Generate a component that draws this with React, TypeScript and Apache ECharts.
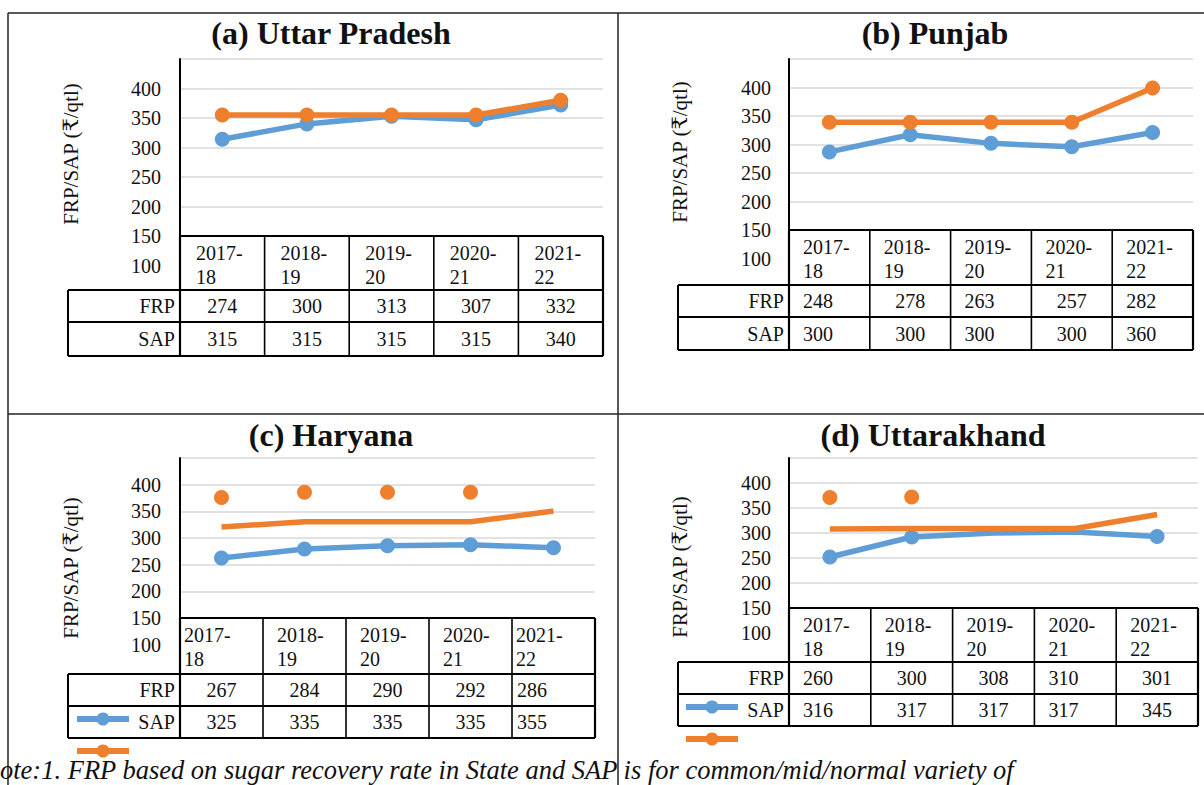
import React, { useEffect, useRef } from 'react';
import * as echarts from 'echarts';

// ---------- data ----------
const categories = ['2017-18', '2018-19', '2019-20', '2020-21', '2021-22'];
const rowNames = ['FRP', 'SAP'];
const yTickLabels = ['100', '150', '200', '250', '300', '350', '400'];
const yAxisTitle = 'FRP/SAP (₹/qtl)';
const panelTitles = ['(a) Uttar Pradesh', '(b) Punjab', '(c) Haryana', '(d) Uttarakhand'];
const footnote = 'ote:1. FRP based on sugar recovery rate in State and SAP is for common/mid/normal variety of';

const upFRP = [274, 300, 313, 307, 332];
const upSAP = [315, 315, 315, 315, 340];
const pbFRP = [248, 278, 263, 257, 282];
const pbSAP = [300, 300, 300, 300, 360];
const hrFRP = [267, 284, 290, 292, 286];
const hrSAP = [325, 335, 335, 335, 355];
const ukFRP = [260, 300, 308, 310, 301];
const ukSAP = [316, 317, 317, 317, 345];

// which points carry markers / loose SAP dots
const upFrpMarks = [0, 1, 2, 3, 4];
const upSapMarks = [0, 1, 2, 3, 4];
const pbFrpMarks = [0, 1, 2, 3, 4];
const pbSapMarks = [0, 1, 2, 3, 4];
const hrFrpMarks = [0, 1, 2, 3, 4];
const hrSapMarks: number[] = [];
const ukFrpMarks = [0, 1, 4];
const ukSapMarks: number[] = [];
const hrSapDots = [0, 1, 2, 3];
const ukSapDots = [0, 1];

const BLUE = '#5F9DD6';
const ORANGE = '#EE7F2D';
const SERIF = "'Liberation Serif', 'Times New Roman', 'DejaVu Serif', serif";

// ---------- layout ----------
const panels = [
  {
    frp: upFRP, sap: upSAP, frpMarks: upFrpMarks, sapMarks: upSapMarks, dots: [] as number[],
    titleX: 331, titleY: 33, yTitleX: 71, yTitleY: 154,
    x0: 68, xL: 180, xR: 603, top: 59, axisY: 236, hdrB: 290, frpB: 322, sapB: 356,
    lineShift: 40, dotShift: 40,
    hdrPad: [16, 16, 16, 16, 16], valAlign: ['c', 'c', 'c', 'c', 'c'], valPad: 14,
    legend: null as null | { x: number; y1: number; y2: number },
  },
  {
    frp: pbFRP, sap: pbSAP, frpMarks: pbFrpMarks, sapMarks: pbSapMarks, dots: [] as number[],
    titleX: 935, titleY: 33, yTitleX: 680, yTitleY: 152,
    x0: 678, xL: 789, xR: 1193, top: 59, axisY: 230, hdrB: 285, frpB: 317, sapB: 350,
    lineShift: 39, dotShift: 39,
    hdrPad: [14, 14, 14, 14, 14], valAlign: ['l', 'c', 'l', 'c', 'l'], valPad: 14,
    legend: null as null | { x: number; y1: number; y2: number },
  },
  {
    frp: hrFRP, sap: hrSAP, frpMarks: hrFrpMarks, sapMarks: hrSapMarks, dots: hrSapDots,
    titleX: 331, titleY: 435, yTitleX: 71, yTitleY: 568,
    x0: 68, xL: 180, xR: 595, top: 458, axisY: 618, hdrB: 674, frpB: 706, sapB: 738,
    lineShift: -4.5, dotShift: 51,
    hdrPad: [4, 14, 14, 14, 4], valAlign: ['c', 'c', 'c', 'c', 'l'], valPad: 5,
    legend: { x: 77, y1: 719, y2: 751 },
  },
  {
    frp: ukFRP, sap: ukSAP, frpMarks: ukFrpMarks, sapMarks: ukSapMarks, dots: ukSapDots,
    titleX: 933, titleY: 435, yTitleX: 680, yTitleY: 567,
    x0: 678, xL: 789, xR: 1198, top: 458, axisY: 608, hdrB: 662, frpB: 694, sapB: 726,
    lineShift: -8, dotShift: 55,
    hdrPad: [14, 14, 14, 14, 14], valAlign: ['l', 'c', 'c', 'l', 'c'], valPad: 14,
    legend: { x: 686, y1: 707, y2: 739 },
  },
];

function txt(x: number, y: number, text: string, opts: any = {}) {
  const align = opts.align || 'left';
  const v = opts.v || 'middle';
  return {
    type: 'text', x, y, z: 20, rotation: opts.rotation || 0,
    style: {
      text, fill: '#111', fontFamily: SERIF, fontSize: opts.size || 20,
      fontWeight: opts.weight || 'normal', fontStyle: opts.style || 'normal',
      align, textAlign: align, verticalAlign: v, textVerticalAlign: v,
    },
  };
}
function ln(x1: number, y1: number, x2: number, y2: number, w = 1.8, color = '#000') {
  return { type: 'line', z: 20, shape: { x1, y1, x2, y2 }, style: { stroke: color, lineWidth: w } };
}

export default function App() {
  const ref = useRef<HTMLDivElement>(null);
  useEffect(() => {
    if (!ref.current) return;
    const chart = echarts.init(ref.current, undefined, { renderer: 'svg' });

    const grid: any[] = [];
    const xAxis: any[] = [];
    const yAxis: any[] = [];
    const series: any[] = [];
    const graphic: any[] = [];

    panels.forEach((p, i) => {
      const step = (p.axisY - p.top) / 6;
      const gridBottom = p.axisY + step;
      grid.push({ left: p.xL, top: p.top, width: p.xR - p.xL, height: gridBottom - p.top, containLabel: false });
      xAxis.push({ type: 'category', gridIndex: i, data: categories, boundaryGap: true, show: false });
      yAxis.push({
        type: 'value', gridIndex: i, min: 100, max: 450, interval: 50,
        axisLine: { show: true, lineStyle: { color: '#000', width: 2 } },
        axisTick: { show: false },
        axisLabel: {
          margin: p.xL - (i % 2 === 0 ? 161 : 771), fontSize: 20, fontFamily: SERIF, color: '#111',
          showMinLabel: true, showMaxLabel: true, hideOverlap: false,
          formatter: (v: number) => (yTickLabels.includes(String(v)) ? String(v) : ''),
        },
        splitLine: { show: true, showMinLine: false, lineStyle: { color: '#D9D9D9', width: 1.5 } },
      });
      yAxis.push({ type: 'value', gridIndex: i, min: 100 - p.lineShift, max: 450 - p.lineShift, show: false, splitLine: { show: false } });
      yAxis.push({ type: 'value', gridIndex: i, min: 100 - p.dotShift, max: 450 - p.dotShift, show: false, splitLine: { show: false } });

      series.push({
        type: 'line', name: rowNames[0], xAxisIndex: i, yAxisIndex: 3 * i + 1,
        data: p.frp.map((v, j) => (p.frpMarks.includes(j) ? v : { value: v, symbol: 'none' })),
        symbol: 'circle', symbolSize: 15, showSymbol: true,
        lineStyle: { color: BLUE, width: 5.5 }, itemStyle: { color: BLUE, opacity: 1 }, z: 3,
      });
      series.push({
        type: 'line', name: rowNames[1], xAxisIndex: i, yAxisIndex: 3 * i + 1,
        data: p.sap.map((v, j) => (p.sapMarks.includes(j) ? v : { value: v, symbol: 'none' })),
        symbol: 'circle', symbolSize: 15, showSymbol: true,
        lineStyle: { color: ORANGE, width: 5.5 }, itemStyle: { color: ORANGE, opacity: 1 }, z: 4,
      });
      if (p.dots.length) {
        series.push({
          type: 'scatter', name: rowNames[1], xAxisIndex: i, yAxisIndex: 3 * i + 2,
          data: p.dots.map((j) => [j, p.sap[j]]), symbolSize: 15,
          itemStyle: { color: ORANGE, opacity: 1 }, z: 4,
        });
      }

      // titles
      graphic.push(txt(p.titleX, p.titleY, panelTitles[i], { align: 'center', size: 32, weight: 'bold' }));
      graphic.push(txt(p.yTitleX, p.yTitleY, yAxisTitle, { align: 'center', size: 21, rotation: Math.PI / 2 }));

      // table
      const cw = (p.xR - p.xL) / categories.length;
      graphic.push(ln(p.xL, p.axisY, p.xR, p.axisY, 2.2));
      graphic.push(ln(p.x0, p.hdrB, p.xR, p.hdrB, 2.2));
      graphic.push(ln(p.x0, p.frpB, p.xR, p.frpB, 2.2));
      graphic.push(ln(p.x0, p.sapB, p.xR, p.sapB, 2.2));
      graphic.push(ln(p.x0, p.hdrB, p.x0, p.sapB, 2));
      for (let k = 0; k <= categories.length; k++) {
        const x = p.xL + k * cw;
        graphic.push(ln(x, p.axisY, x, p.sapB, k === 0 || k === categories.length ? 2.2 : 1.6));
      }
      categories.forEach((c, k) => {
        const [a, b] = c.split('-');
        const cx = p.xL + k * cw;
        graphic.push(txt(cx + p.hdrPad[k], p.axisY + 17, a + '-', { size: 20 }));
        graphic.push(txt(cx + p.hdrPad[k], p.axisY + 41, b, { size: 20 }));
        const rows = [p.frp[k], p.sap[k]];
        const ys = [(p.hdrB + p.frpB) / 2, (p.frpB + p.sapB) / 2];
        rows.forEach((v, r) => {
          if (p.valAlign[k] === 'c') graphic.push(txt(cx + cw / 2, ys[r], String(v), { align: 'center' }));
          else graphic.push(txt(cx + p.valPad, ys[r], String(v)));
        });
      });
      graphic.push(txt(p.xL - 5, (p.hdrB + p.frpB) / 2, rowNames[0], { align: 'right' }));
      graphic.push(txt(p.xL - 5, (p.frpB + p.sapB) / 2, rowNames[1], { align: 'right' }));

      if (p.legend) {
        const L = p.legend;
        [[L.y1, BLUE], [L.y2, ORANGE]].forEach(([y, col]: any) => {
          graphic.push({ type: 'line', z: 21, shape: { x1: L.x, y1: y, x2: L.x + 52, y2: y }, style: { stroke: col, lineWidth: 6 } });
          graphic.push({ type: 'circle', z: 22, shape: { cx: L.x + 26, cy: y, r: 6.5 }, style: { fill: col } });
        });
      }
    });

    // frame
    graphic.push(ln(8, 13, 1204, 13, 1.5, '#222'));
    graphic.push(ln(8, 13, 8, 785, 1.5, '#222'));
    graphic.push(ln(618, 13, 618, 785, 1.5, '#222'));
    graphic.push(ln(8, 414, 1204, 414, 1.5, '#222'));
    // footnote
    graphic.push(txt(0, 770, footnote, { size: 26.5, style: 'italic' }));

    chart.setOption({
      animation: false,
      backgroundColor: '#ffffff',
      grid, xAxis, yAxis, series, graphic,
    });
    return () => chart.dispose();
  }, []);

  return <div ref={ref} style={{ position: 'absolute', left: 0, top: 0, width: 1204, height: 785, background: '#fff' }} />;
}
